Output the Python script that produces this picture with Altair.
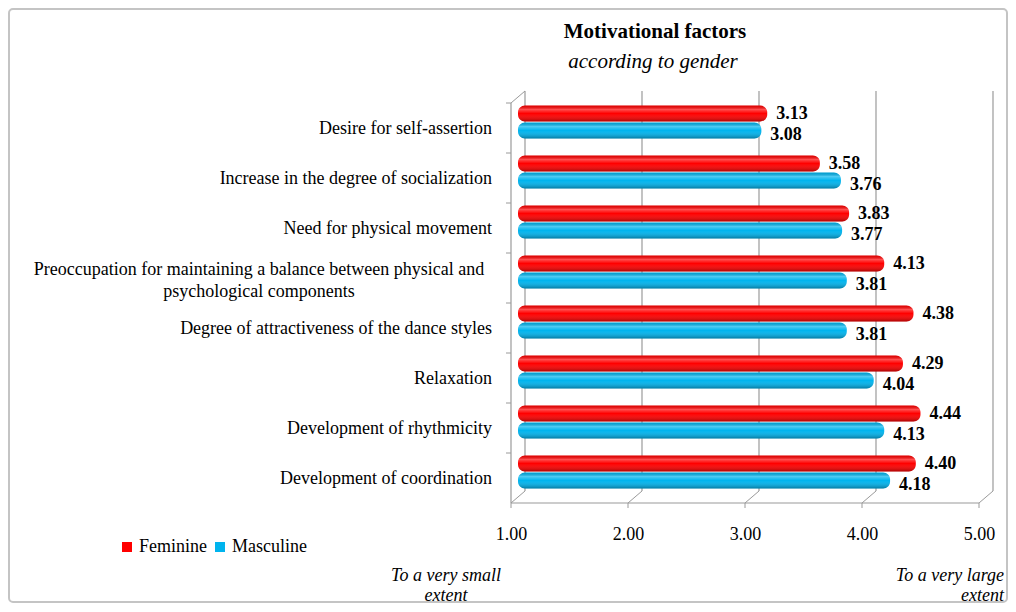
import altair as alt
import pandas as pd

# ---------------- data ----------------
categories = [
    "Desire for self-assertion",
    "Increase in the degree of socialization",
    "Need for physical movement",
    "Preoccupation for maintaining a balance between physical and psychological components",
    "Degree of attractiveness of the dance styles",
    "Relaxation",
    "Development of rhythmicity",
    "Development of coordination",
]
feminine = [3.13, 3.58, 3.83, 4.13, 4.38, 4.29, 4.44, 4.40]
masculine = [3.08, 3.76, 3.77, 3.81, 3.81, 4.04, 4.13, 4.18]
series = ["Feminine", "Masculine"]
x_ticks = [1, 2, 3, 4, 5]
title_text = "Motivational factors"
subtitle_text = "according to gender"
low_note = "To a very small\nextent"
high_note = "To a very large\nextent"

rows = []
for c, f, m in zip(categories, feminine, masculine):
    rows.append({"category": c, "series": "Feminine", "value": f})
    rows.append({"category": c, "series": "Masculine", "value": m})
bars_df = pd.DataFrame(rows)

labels = [c.replace("and psychological", "and\npsychological") for c in categories]
cat_df = pd.DataFrame({"category": categories, "label": labels})
grid_df = pd.DataFrame({"v": x_ticks})

# ---------------- styling ----------------
W, H = 468, 400
FONT = "Liberation Serif, Times New Roman, Times, serif"
FS = 18

xs = alt.Scale(domain=[1, 5], nice=False, zero=False)
ys = alt.Scale(domain=categories, paddingInner=0, paddingOuter=0)
yos = alt.Scale(domain=series, paddingInner=0.06, paddingOuter=0.5)
cs = alt.Scale(domain=series, range=["#FF0000", "#00B4EE"])

GRID = "#9a9a9a"

shine = {
    "gradient": "linear", "x1": 0, "y1": 0, "x2": 0, "y2": 1,
    "stops": [
        {"offset": 0.0, "color": "rgba(0,0,0,0.12)"},
        {"offset": 0.25, "color": "rgba(255,255,255,0.30)"},
        {"offset": 0.5, "color": "rgba(255,255,255,0.0)"},
        {"offset": 1.0, "color": "rgba(0,0,0,0.32)"},
    ],
}

frame = alt.Chart(pd.DataFrame({"a": [0]})).mark_rect(
    fill="transparent", stroke="#c4c4c4", strokeWidth=2, cornerRadius=4
).encode(x=alt.value(-509), x2=alt.value(489), y=alt.value(-88), y2=alt.value(505))

x_axis = alt.Axis(values=x_ticks, format=".2f", domain=False, ticks=False, tickSize=0,
                  grid=False, labelFont=FONT, labelFontSize=FS, labelColor="black",
                  labelFlush=False, labelBound=False, labelOverlap=False,
                  labelPadding=28, labelOffset=-7, title=None)

back_grid = alt.Chart(grid_df).mark_rule(color=GRID, strokeWidth=1.2, xOffset=7).encode(
    x=alt.X("v:Q", scale=xs, axis=x_axis, title=None), y=alt.value(-6), y2=alt.value(394)
)
floor_diag = alt.Chart(grid_df).mark_rule(color=GRID, strokeWidth=1, xOffset=-7, x2Offset=7).encode(
    x=alt.X("v:Q", scale=xs, title=None), x2=alt.X2("v"), y=alt.value(406), y2=alt.value(394)
)
front_line = alt.Chart(grid_df).mark_rule(color=GRID, strokeWidth=1.2, xOffset=-7, x2Offset=-7).encode(
    x=alt.X("min(v):Q", scale=xs, title=None), x2=alt.X2("max(v)"), y=alt.value(406)
)
front_ticks = alt.Chart(grid_df).mark_rule(color=GRID, strokeWidth=1, xOffset=-7).encode(
    x=alt.X("v:Q", scale=xs, title=None), y=alt.value(406), y2=alt.value(411)
)
left_front = alt.Chart(grid_df).transform_filter("datum.v == 1").mark_rule(
    color=GRID, strokeWidth=1.2, xOffset=-7
).encode(x=alt.X("v:Q", scale=xs, title=None), y=alt.value(6), y2=alt.value(406))
left_top = alt.Chart(grid_df).transform_filter("datum.v == 1").mark_rule(
    color=GRID, strokeWidth=1, xOffset=-7, x2Offset=7
).encode(x=alt.X("v:Q", scale=xs, title=None), x2=alt.X2("v"), y=alt.value(6), y2=alt.value(-6))
wall_ticks = alt.Chart(cat_df).mark_rule(
    color=GRID, strokeWidth=1, xOffset=-7, x2Offset=-12, yOffset=6
).encode(
    x=alt.datum(1, scale=xs), x2=alt.datum(1),
    y=alt.Y("category:N", scale=ys, sort=categories, bandPosition=0, axis=None),
)

bars = alt.Chart(bars_df).mark_bar(cornerRadius=7).encode(
    x=alt.X("value:Q", scale=xs, title=None),
    x2=alt.datum(1),
    y=alt.Y("category:N", scale=ys, sort=categories, axis=None),
    yOffset=alt.YOffset("series:N", scale=yos, sort=series),
    color=alt.Color("series:N", scale=cs, legend=alt.Legend(
        orient="none", legendX=-400, legendY=441, direction="horizontal", title=None,
        symbolType="square", symbolSize=100, symbolStrokeWidth=0,
        labelFont=FONT, labelFontSize=FS, labelColor="black",
        columnPadding=4, labelOffset=3)),
)
bar_shine = alt.Chart(bars_df).mark_bar(cornerRadius=7, fill=shine).encode(
    x=alt.X("value:Q", scale=xs, title=None),
    x2=alt.datum(1),
    y=alt.Y("category:N", scale=ys, sort=categories, axis=None),
    yOffset=alt.YOffset("series:N", scale=yos, sort=series),
)


def value_layer(name, dy):
    return alt.Chart(bars_df).transform_filter(alt.datum.series == name).mark_text(
        align="left", baseline="middle", dx=9, dy=dy, font=FONT, fontSize=FS,
        fontWeight="bold", color="black"
    ).encode(
        x=alt.X("value:Q", scale=xs, title=None),
        y=alt.Y("category:N", scale=ys, sort=categories, axis=None),
        yOffset=alt.YOffset("series:N", scale=yos, sort=series),
        text=alt.Text("value:Q", format=".2f"),
    )


values_f = value_layer("Feminine", 1)
values_m = value_layer("Masculine", 4)

cat_single = alt.Chart(cat_df).transform_filter("indexof(datum.label, '\\n') < 0").mark_text(
    align="right", baseline="middle", dy=7, font=FONT, fontSize=FS, color="black"
).encode(
    x=alt.value(-26),
    y=alt.Y("category:N", scale=ys, sort=categories, axis=None),
    text="label:N",
)
cat_wrapped = alt.Chart(cat_df).transform_filter("indexof(datum.label, '\\n') >= 0").mark_text(
    align="center", baseline="middle", dy=-2, font=FONT, fontSize=FS, color="black",
    lineBreak="\n", lineHeight=22
).encode(
    x=alt.value(-259),
    y=alt.Y("category:N", scale=ys, sort=categories, axis=None),
    text="label:N",
)

title = alt.Chart(pd.DataFrame({"t": [title_text]})).mark_text(
    font=FONT, fontSize=21, fontWeight="bold", align="center", baseline="middle", color="black"
).encode(x=alt.value(137), y=alt.value(-65), text="t:N")
subtitle = alt.Chart(pd.DataFrame({"t": [subtitle_text]})).mark_text(
    font=FONT, fontSize=21, fontStyle="italic", align="center", baseline="middle", color="black"
).encode(x=alt.value(135), y=alt.value(-35), text="t:N")

note_low = alt.Chart(pd.DataFrame({"t": [low_note]})).mark_text(
    font=FONT, fontSize=FS, fontStyle="italic", align="center", baseline="top",
    lineBreak="\n", lineHeight=20, color="black"
).encode(x=alt.value(-72), y=alt.value(470), text="t:N")
note_high = alt.Chart(pd.DataFrame({"t": [high_note]})).mark_text(
    font=FONT, fontSize=FS, fontStyle="italic", align="right", baseline="top",
    lineBreak="\n", lineHeight=20, color="black"
).encode(x=alt.value(486), y=alt.value(470), text="t:N")

chart = alt.layer(
    back_grid, frame, floor_diag, front_line, front_ticks, left_front, left_top, wall_ticks,
    bars, bar_shine, values_f, values_m, cat_single, cat_wrapped, title, subtitle,
    note_low, note_high,
).properties(
    width=W, height=H,
    autosize=alt.AutoSizeParams(type="none"),
    padding={"left": 510, "top": 89, "right": 22, "bottom": 107},
).configure_view(strokeWidth=0)

chart.save("out.html", embed_options={"renderer": "svg", "actions": False})
